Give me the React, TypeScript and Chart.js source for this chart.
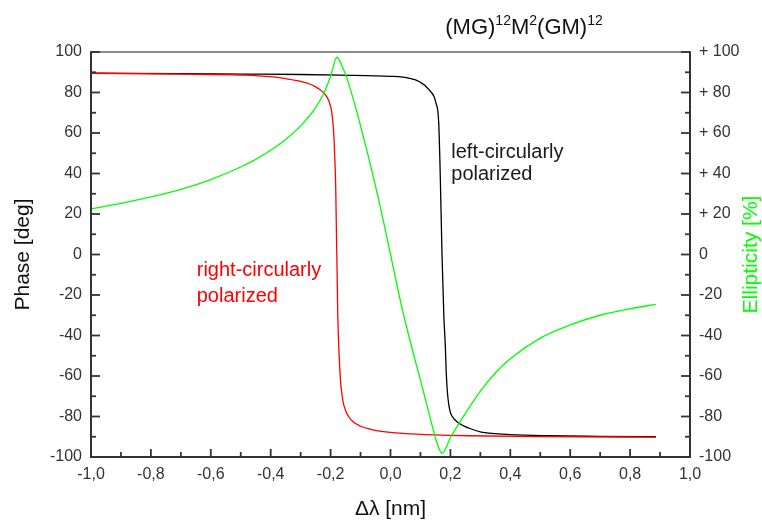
import React, { useEffect, useRef } from 'react';
import { Chart, registerables } from 'chart.js';

Chart.register(...registerables);

const FONT = "'Liberation Sans', Arial, Helvetica, sans-serif";

// Left-circularly polarized phase (black), deg
const leftX = [-1.0, -0.7, -0.5, -0.3, -0.17, 0.0, 0.063, 0.097, 0.13, 0.152, 0.161, 0.166, 0.172, 0.178, 0.183, 0.186, 0.19, 0.195, 0.2, 0.21, 0.22, 0.24, 0.263, 0.3, 0.35, 0.4, 0.52, 0.7, 0.886];
const leftY = [89.5, 89.3, 89.1, 88.9, 88.6, 88.0, 87.0, 85.3, 81.2, 74.8, 65.0, 40.0, 0.0, -30.0, -45.0, -58.0, -68.0, -74.5, -78.0, -80.8, -82.3, -84.3, -85.8, -87.6, -88.5, -89.0, -89.5, -89.8, -90.0];

// Right-circularly polarized phase (red), deg
const rightX = [-1.0, -0.7, -0.5, -0.4, -0.35, -0.3, -0.27, -0.25, -0.23, -0.215, -0.205, -0.197, -0.191, -0.187, -0.183, -0.176, -0.168, -0.163, -0.158, -0.15, -0.14, -0.126, -0.1, -0.07, -0.03, 0.04, 0.15, 0.263, 0.5, 0.886];
const rightY = [89.5, 89.1, 88.6, 87.8, 86.8, 85.5, 84.2, 82.8, 80.8, 78.5, 75.5, 71.0, 63.0, 51.6, 34.0, -30.0, -60.0, -68.0, -73.0, -77.0, -80.0, -82.5, -84.8, -86.2, -87.3, -88.3, -89.1, -89.5, -89.9, -90.2];

// Ellipticity (green), %
const ellX = [-1.0, -0.9, -0.8, -0.7, -0.6, -0.5, -0.45, -0.4, -0.35, -0.3, -0.25, -0.22, -0.2, -0.179, -0.16, -0.14, -0.12, -0.1, -0.08, -0.06, -0.04, -0.02, 0.0, 0.02, 0.04, 0.06, 0.08, 0.1, 0.12, 0.14, 0.155, 0.172, 0.2, 0.25, 0.3, 0.35, 0.4, 0.5, 0.6, 0.7, 0.8, 0.886];
const ellY = [22.5, 25.2, 28.4, 32.2, 37.0, 43.2, 47.0, 51.5, 56.8, 63.5, 72.5, 80.5, 88.0, 97.4, 92.5, 84.5, 74.5, 63.5, 52.0, 40.0, 27.5, 14.0, 0.0, -14.0, -27.5, -39.5, -51.0, -62.0, -73.5, -85.0, -93.0, -98.2, -90.5, -78.5, -67.5, -58.5, -51.5, -41.3, -34.8, -30.0, -26.8, -24.6];

const X_MIN = -1.0;
const X_MAX = 1.0;
const Y_MIN = -100;
const Y_MAX = 100;

const toPoints = (xs: number[], ys: number[]) => xs.map((x, i) => ({ x, y: ys[i] }));

const fmtX = (v: number) => (Math.round(v * 10) / 10).toFixed(1).replace('.', ',');
const fmtRight = (v: number) => {
  const r = Math.round(v);
  if (r > 0) return '+ ' + r;
  return String(r);
};

const framePlugin = {
  id: 'frame',
  afterDraw(chart: any) {
    const { ctx, chartArea: a, scales } = chart;
    const xs = scales.x;
    const ys = scales.y;
    ctx.save();
    const line = (x1: number, y1: number, x2: number, y2: number) => {
      ctx.beginPath();
      ctx.moveTo(x1, y1);
      ctx.lineTo(x2, y2);
      ctx.stroke();
    };
    // frame
    ctx.lineCap = 'butt';
    ctx.strokeStyle = '#666';
    ctx.lineWidth = 1.5;
    line(a.left, a.top, a.right, a.top);
    ctx.strokeStyle = '#333';
    ctx.lineWidth = 2;
    line(a.left, a.top - 0.75, a.left, a.bottom + 1);
    line(a.right, a.top - 0.75, a.right, a.bottom + 1);
    line(a.left - 1, a.bottom, a.right + 1, a.bottom);
    // ticks
    ctx.lineWidth = 1.8;
    for (let v = Y_MIN; v <= Y_MAX; v += 10) {
      const py = ys.getPixelForValue(v);
      const len = v % 20 === 0 ? 9 : 5;
      line(a.left, py, a.left + len, py);
      line(a.right, py, a.right - len, py);
    }
    for (let i = -10; i <= 10; i++) {
      const px = xs.getPixelForValue(i / 10);
      const len = i % 2 === 0 ? 8 : 5;
      line(px, a.bottom, px, a.bottom - len);
    }

    // annotations
    ctx.textBaseline = 'middle';
    ctx.textAlign = 'left';
    ctx.font = `20px ${FONT}`;
    ctx.fillStyle = '#1a1a1a';
    const lx = xs.getPixelForValue(0.203);
    ctx.fillText('left-circularly', lx, ys.getPixelForValue(50.6));
    ctx.fillText('polarized', lx, ys.getPixelForValue(39.3));
    ctx.fillStyle = '#ff0000';
    const rx = xs.getPixelForValue(-0.647);
    ctx.fillText('right-circularly', rx, ys.getPixelForValue(-7.7));
    ctx.fillText('polarized', rx, ys.getPixelForValue(-20.5));

    // right axis title (reads bottom to top)
    ctx.save();
    ctx.translate(751, (a.top + a.bottom) / 2);
    ctx.rotate(-Math.PI / 2);
    ctx.textAlign = 'center';
    ctx.fillStyle = '#00ff00';
    ctx.font = `21px ${FONT}`;
    ctx.fillText('Ellipticity [%]', 0, 0);
    ctx.restore();

    // chart title with superscripts
    const parts: [string, boolean][] = [
      ['(MG)', false], ['12', true], ['M', false], ['2', true], ['(GM)', false], ['12', true],
    ];
    const big = `22px ${FONT}`;
    const small = `14px ${FONT}`;
    let total = 0;
    for (const [t, sup] of parts) {
      ctx.font = sup ? small : big;
      total += ctx.measureText(t).width;
    }
    let cx = 524 - total / 2;
    const base = 34;
    ctx.textBaseline = 'alphabetic';
    ctx.textAlign = 'left';
    ctx.fillStyle = '#111';
    for (const [t, sup] of parts) {
      ctx.font = sup ? small : big;
      ctx.fillText(t, cx, sup ? base - 9 : base);
      cx += ctx.measureText(t).width;
    }
    ctx.restore();
  },
};

export default function App() {
  const ref = useRef<HTMLCanvasElement | null>(null);
  useEffect(() => {
    if (!ref.current) return;
    const chart = new Chart(ref.current, {
      type: 'line',
      data: {
        datasets: [
          {
            label: 'left-circularly polarized',
            data: toPoints(leftX, leftY),
            borderColor: '#000000',
            borderWidth: 1.3,
            pointRadius: 0,
            cubicInterpolationMode: 'monotone',
            yAxisID: 'y',
            order: 3,
          },
          {
            label: 'right-circularly polarized',
            data: toPoints(rightX, rightY),
            borderColor: '#ff0000',
            borderWidth: 1.3,
            pointRadius: 0,
            cubicInterpolationMode: 'monotone',
            yAxisID: 'y',
            order: 2,
          },
          {
            label: 'Ellipticity',
            data: toPoints(ellX, ellY),
            borderColor: '#00ff00',
            borderWidth: 1.3,
            pointRadius: 0,
            cubicInterpolationMode: 'monotone',
            yAxisID: 'y2',
            order: 1,
          },
        ],
      },
      options: {
        responsive: false,
        animation: false,
        layout: { padding: { top: 52, left: 0, right: 0, bottom: 0 } },
        plugins: {
          legend: { display: false },
          tooltip: { enabled: false },
          title: { display: false },
        },
        scales: {
          x: {
            type: 'linear',
            position: 'bottom',
            min: X_MIN,
            max: X_MAX,
            afterFit: (s: any) => { s.height = 64; },
            afterBuildTicks: (s: any) => {
              const t = [];
              for (let i = -10; i <= 10; i += 2) t.push({ value: i / 10 });
              s.ticks = t;
            },
            grid: { display: false, drawTicks: false },
            border: { display: false },
            ticks: {
              padding: 8,
              color: '#333',
              font: { family: FONT, size: 16 },
              maxRotation: 0,
              autoSkip: false,
              callback: (v: any) => fmtX(Number(v)),
            },
            title: {
              display: true,
              text: 'Δλ [nm]',
              color: '#111',
              font: { family: FONT, size: 21, lineHeight: 1 },
              padding: { top: 0, bottom: 1.5 },
            },
          },
          y: {
            type: 'linear',
            position: 'left',
            min: Y_MIN,
            max: Y_MAX,
            afterFit: (s: any) => { s.width = 91; },
            grid: { display: false, drawTicks: false },
            border: { display: false },
            ticks: {
              stepSize: 20,
              padding: 9,
              color: '#333',
              font: { family: FONT, size: 16 },
            },
            title: {
              display: true,
              text: 'Phase [deg]',
              color: '#111',
              font: { family: FONT, size: 21, lineHeight: 1 },
              padding: { top: 12.5, bottom: 0 },
            },
          },
          y2: {
            type: 'linear',
            position: 'right',
            min: Y_MIN,
            max: Y_MAX,
            afterFit: (s: any) => { s.width = 72; },
            grid: { display: false, drawTicks: false },
            border: { display: false },
            ticks: {
              stepSize: 20,
              padding: 9,
              color: '#333',
              font: { family: FONT, size: 16 },
              callback: (v: any) => fmtRight(Number(v)),
            },
          },
        },
      },
      plugins: [framePlugin],
    } as any);
    return () => chart.destroy();
  }, []);

  return (
    <div style={{ position: 'absolute', left: 0, top: 0, width: 762, height: 521, background: '#fff' }}>
      <canvas ref={ref} width={762} height={521} style={{ width: 762, height: 521, display: 'block' }} />
    </div>
  );
}
